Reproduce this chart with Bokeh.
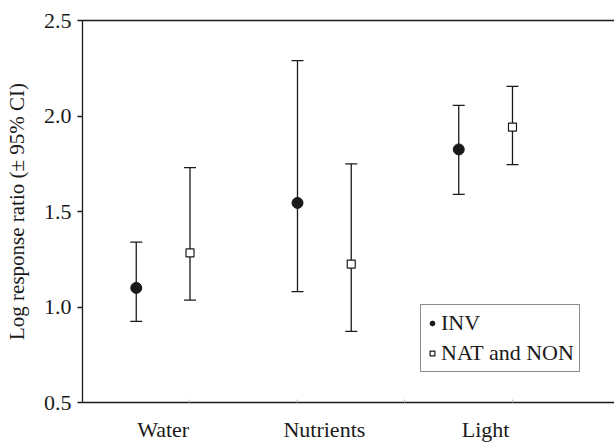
from bokeh.plotting import figure
from bokeh.models import (Range1d, FixedTicker, LinearAxis, Whisker, TeeHead,
                          ColumnDataSource, Legend, LegendItem)
from bokeh.embed import file_html
from bokeh.resources import INLINE

categories = ["Water", "Nutrients", "Light"]
cat_pos = [0.75, 2.25, 3.75]
inv_x = [0.5, 2.0, 3.5]
non_x = [1.0, 2.5, 4.0]
inv_mean = [1.10, 1.545, 1.825]
inv_low = [0.925, 1.08, 1.59]
inv_high = [1.34, 2.29, 2.056]
non_mean = [1.283, 1.225, 1.942]
non_low = [1.036, 0.872, 1.745]
non_high = [1.73, 1.749, 2.155]
y_ticks = [0.5, 1.0, 1.5, 2.0, 2.5]

FONT = "'Liberation Serif', 'Times New Roman', Times, serif"
INK = "#1a1a1a"

p = figure(width=614, height=444, output_backend="svg", toolbar_location=None,
           x_range=Range1d(0, 4.949), y_range=Range1d(0.5, 2.5),
           x_axis_location=None, y_axis_location=None,
           min_border_left=82, min_border_right=0, min_border_top=20,
           min_border_bottom=39)
p.outline_line_color = None
p.xgrid.visible = False
p.ygrid.visible = False
p.background_fill_color = "white"
p.border_fill_color = "white"

# left axis
yax = LinearAxis(ticker=FixedTicker(ticks=y_ticks))
yax.major_label_overrides = {t: f"{t:.1f}" for t in y_ticks}
yax.axis_label = "Log response ratio (± 95% CI)"
yax.axis_label_text_font = FONT
yax.axis_label_text_font_style = "normal"
yax.axis_label_text_font_size = "21px"
yax.axis_label_text_color = INK
yax.axis_label_standoff = 12
yax.major_label_text_font = FONT
yax.major_label_text_font_size = "22px"
yax.major_label_text_color = INK
yax.major_label_standoff = 6
yax.major_tick_out = 5
yax.major_tick_in = 0
yax.minor_tick_out = 0
yax.minor_tick_in = 0
yax.axis_line_width = 1.3
yax.axis_line_color = INK
yax.major_tick_line_color = INK
yax.major_tick_line_width = 1.3
p.add_layout(yax, "left")

# bottom axis
xax = LinearAxis(ticker=FixedTicker(ticks=cat_pos, minor_ticks=[1, 2, 3, 4]))
xax.major_label_overrides = {pos: c for pos, c in zip(cat_pos, categories)}
xax.major_label_text_font = FONT
xax.major_label_text_font_size = "22px"
xax.major_label_text_color = INK
xax.major_label_standoff = 14
xax.major_tick_out = 0
xax.major_tick_in = 0
xax.minor_tick_in = 3
xax.minor_tick_out = 0
xax.minor_tick_line_color = "#bbbbbb"
xax.axis_line_width = 1.3
xax.axis_line_color = INK
p.add_layout(xax, "below")

# top line
tax = LinearAxis(ticker=FixedTicker(ticks=[]))
tax.major_label_text_font_size = "0px"
tax.major_tick_out = 0
tax.major_tick_in = 0
tax.minor_tick_out = 0
tax.minor_tick_in = 0
tax.axis_line_width = 1.3
tax.axis_line_color = INK
p.add_layout(tax, "above")

src_inv = ColumnDataSource(dict(x=inv_x, y=inv_mean, lo=inv_low, hi=inv_high))
src_non = ColumnDataSource(dict(x=non_x, y=non_mean, lo=non_low, hi=non_high))

for src in (src_inv, src_non):
    w = Whisker(source=src, base="x", lower="lo", upper="hi", dimension="height",
                line_color=INK, line_width=1.3,
                upper_head=TeeHead(size=12, line_color=INK, line_width=1.3),
                lower_head=TeeHead(size=12, line_color=INK, line_width=1.3))
    p.add_layout(w)

r_inv = p.scatter("x", "y", source=src_inv, marker="circle", size=11,
                  fill_color=INK, line_color=INK)
r_non = p.scatter("x", "y", source=src_non, marker="square", size=8,
                  fill_color="white", line_color=INK, line_width=1.2)

legend = Legend(items=[LegendItem(label="INV", renderers=[r_inv]),
                       LegendItem(label="NAT and NON", renderers=[r_non])],
                location=(338, 30))
legend.label_text_font = FONT
legend.label_text_font_size = "22px"
legend.label_text_color = INK
legend.glyph_width = 12
legend.glyph_height = 20
legend.label_standoff = 3
legend.padding = 5
legend.spacing = 4
legend.margin = 0
legend.border_line_color = INK
legend.border_line_width = 1.3
legend.background_fill_alpha = 1.0
legend.label_height = 20
p.add_layout(legend, "center")

html = file_html(p, INLINE)
open("out.html", "w").write(html)
